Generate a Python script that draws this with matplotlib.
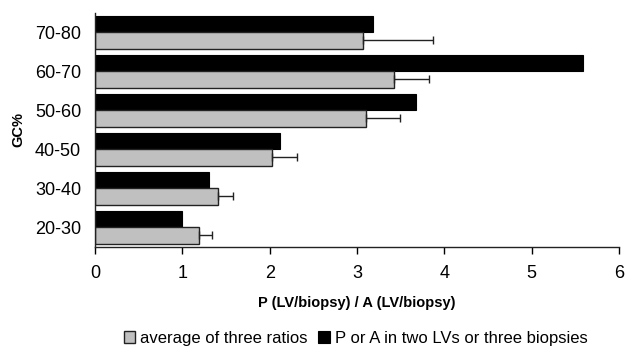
import matplotlib
matplotlib.use('Agg')
import matplotlib.pyplot as plt
import numpy as np

plt.rcParams['font.family'] = ['Liberation Sans', 'DejaVu Sans']

categories = ['20-30', '30-40', '40-50', '50-60', '60-70', '70-80']
avg_ratio = [1.19, 1.41, 2.03, 3.10, 3.42, 3.07]
avg_err = [0.15, 0.17, 0.28, 0.39, 0.40, 0.80]
two_lv = [1.00, 1.31, 2.12, 3.67, 5.59, 3.18]


def main():
	fig = plt.figure(figsize=(6.27, 3.62), dpi=100)
	ax = fig.add_axes([0.1515, 0.3185, 0.836, 0.6465])
	y = np.arange(len(categories))
	h = 0.425
	ax.barh(y + h / 2, two_lv, height=h, color='black', edgecolor='black', linewidth=0.8,
			label='P or A in two LVs or three biopsies')
	ax.barh(y - h / 2, avg_ratio, height=h, color='#c0c0c0', edgecolor='#222222', linewidth=1.0,
			label='average of three ratios')
	ax.errorbar(avg_ratio, y - h / 2, xerr=[np.zeros(len(avg_err)), avg_err], fmt='none',
				ecolor='#222222', elinewidth=1.0, capsize=3, capthick=1.0)

	ax.set_xlim(0, 6)
	ax.set_ylim(-0.5, 5.5)
	ax.set_yticks(y)
	ax.set_yticklabels(categories, fontsize=13)
	ax.set_xticks(range(7))
	ax.tick_params(axis='x', labelsize=13, length=5, width=1, direction='out', pad=8)
	ax.tick_params(axis='y', length=0, pad=10)
	ax.spines['top'].set_visible(False)
	ax.spines['right'].set_visible(False)
	for s in ('left', 'bottom'):
		ax.spines[s].set_linewidth(1.0)
		ax.spines[s].set_color('#222222')

	ax.set_xlabel('P (LV/biopsy) / A (LV/biopsy)', fontsize=10.5, fontweight='bold', labelpad=10)
	ax.set_ylabel('GC%', fontsize=10.5, fontweight='bold', labelpad=7)

	handles, labels = ax.get_legend_handles_labels()
	fig.legend(handles[::-1], labels[::-1], loc='center', bbox_to_anchor=(0.567, 0.066), ncol=2,
			   frameon=False, fontsize=12, handlelength=0.7, handleheight=0.7,
			   handletextpad=0.3, columnspacing=0.6)

	plt.savefig('out.png', dpi=100)


if __name__ == '__main__':
	main()
